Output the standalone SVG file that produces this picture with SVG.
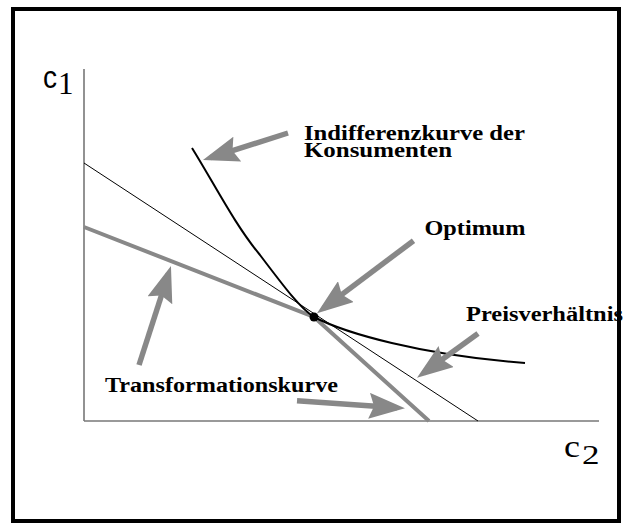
<svg xmlns="http://www.w3.org/2000/svg" width="629" height="531" viewBox="0 0 629 531">
  <style>
    .lbl { font-family: "Liberation Serif", "Times New Roman", serif; font-weight: bold; font-size: 20px; fill: #000; }
    .arrow { stroke: #888; stroke-width: 5.5; fill: none; marker-end: url(#head); }
    .axis { stroke: #777; stroke-width: 1.6; fill: none; }
  </style>
  <defs>
    <marker id="head" viewBox="0 0 36 26" refX="28" refY="13" markerWidth="36" markerHeight="26" markerUnits="userSpaceOnUse" orient="auto">
      <path d="M0,0 L36,13 L0,26 L5,13 Z" fill="#888"/>
    </marker>
  </defs>
  <rect width="629" height="531" fill="#fff"/>
  <rect id="frame" x="13" y="9" width="606" height="512" fill="none" stroke="#000" stroke-width="4"/>

  <g id="axes">
    <line class="axis" x1="84" y1="69" x2="84" y2="421"/>
    <line class="axis" x1="84" y1="421" x2="599" y2="421"/>
    <text x="43" y="88" font-family="'Liberation Sans', Arial, sans-serif" font-size="32" textLength="14" lengthAdjust="spacingAndGlyphs">c</text>
    <text x="58" y="94" font-family="'Liberation Serif', serif" font-size="31">1</text>
    <text x="564" y="457" font-family="'Liberation Serif', serif" font-size="31" textLength="16" lengthAdjust="spacingAndGlyphs">c</text>
    <text x="582" y="464" font-family="'Liberation Serif', serif" font-size="27" textLength="17.5" lengthAdjust="spacingAndGlyphs">2</text>
  </g>

  <g id="preisverhaeltnis-line">
    <line x1="84" y1="163" x2="478" y2="421" stroke="#000" stroke-width="1"/>
  </g>
  <g id="transformationskurve-line">
    <polyline points="84,227 314,317 429,421" fill="none" stroke="#888" stroke-width="4"/>
  </g>
  <g id="indifferenzkurve-line">
    <path d="M192,148 C215,185 235,225 260,255 C285,288 300,308 314,317 C345,333 420,355 525,363" fill="none" stroke="#000" stroke-width="2"/>
  </g>
  <g id="optimum-point">
    <circle cx="314" cy="317" r="4.5" fill="#000"/>
  </g>

  <g id="label-indifferenz">
    <text class="lbl"><tspan x="304" y="140" textLength="221" lengthAdjust="spacingAndGlyphs">Indifferenzkurve der</tspan><tspan x="304" y="157" textLength="148" lengthAdjust="spacingAndGlyphs">Konsumenten</tspan></text>
  </g>
  <g id="label-optimum">
    <text class="lbl" x="424.5" y="235" textLength="101" lengthAdjust="spacingAndGlyphs">Optimum</text>
  </g>
  <g id="label-preis">
    <text class="lbl" x="466" y="321" textLength="157" lengthAdjust="spacingAndGlyphs">Preisverhältnis</text>
  </g>
  <g id="label-transformation">
    <text class="lbl" x="105" y="392" textLength="233" lengthAdjust="spacingAndGlyphs">Transformationskurve</text>
  </g>

  <g id="connectors">
    <line class="arrow" x1="288" y1="133" x2="210.6" y2="157.6"/>
    <line class="arrow" x1="413.5" y1="240.7" x2="323.4" y2="308.4"/>
    <line class="arrow" x1="478" y1="333.5" x2="423.5" y2="373"/>
    <line class="arrow" x1="139" y1="365" x2="168.5" y2="273.6"/>
    <line class="arrow" x1="297" y1="400.7" x2="397" y2="407.8"/>
  </g>
</svg>
